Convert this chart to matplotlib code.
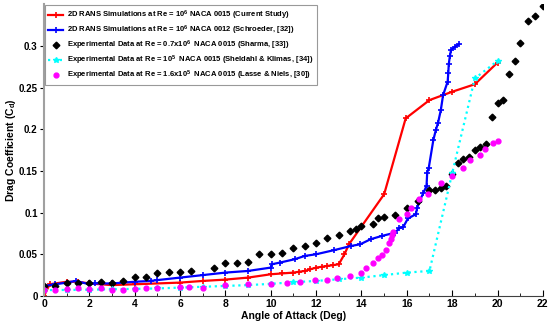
import matplotlib
matplotlib.use("Agg")
import matplotlib.pyplot as plt
from matplotlib.ticker import MultipleLocator

plt.rcParams["font.family"] = ["Liberation Sans", "DejaVu Sans"]
plt.rcParams["font.weight"] = "bold"
plt.rcParams["mathtext.fontset"] = "custom"
plt.rcParams["mathtext.bf"] = "Liberation Sans:bold"
plt.rcParams["mathtext.rm"] = "Liberation Sans:bold"
plt.rcParams["mathtext.default"] = "bf"

# Current study, 2D RANS, NACA 0015
red_x = [0, 0.25, 1, 1.5, 2, 3, 4, 6, 7, 8, 9, 10, 10.5, 11, 11.25, 11.5, 11.75,
         12, 12.25, 12.5, 12.75, 13, 13.25, 13.45, 15, 15.95, 17, 18, 19, 20]
red_y = [0.0, 0.014, 0.017, 0.017, 0.015, 0.013, 0.014, 0.016, 0.018, 0.0196, 0.022,
         0.026, 0.027, 0.028, 0.029, 0.030, 0.032, 0.034, 0.035, 0.036, 0.037, 0.038,
         0.050, 0.062, 0.122, 0.213, 0.235, 0.245, 0.254, 0.280]

# Schroeder, NACA 0012
blue_x = [0, 0.5, 1, 1.4, 2, 2.25, 3, 4, 4.7, 5, 6, 7, 8, 9, 10, 10.05, 10.4, 11.05,
          11.5, 12, 12.8, 13.55, 13.95, 14.4, 14.9, 15.5, 15.65, 15.85, 16.05, 16.4,
          16.45, 16.55, 16.72, 16.87, 16.9, 16.97, 17.17, 17.28, 17.38, 17.5, 17.6,
          17.8, 17.83, 17.85, 17.9, 17.95, 18.12, 18.3]
blue_y = [0.012, 0.014, 0.016, 0.018, 0.014, 0.015, 0.015, 0.017, 0.018, 0.019, 0.022,
          0.025, 0.028, 0.030, 0.034, 0.038, 0.040, 0.044, 0.048, 0.050, 0.055, 0.060,
          0.062, 0.068, 0.072, 0.076, 0.081, 0.083, 0.093, 0.098, 0.105, 0.113, 0.123,
          0.132, 0.148, 0.154, 0.187, 0.199, 0.208, 0.223, 0.241, 0.257, 0.267, 0.278,
          0.288, 0.295, 0.299, 0.302]

# Sharma, Re = 0.7e6
black_x = [0, 0.5, 1, 1.5, 2, 2.5, 3, 3.5, 4, 4.5, 5, 5.5, 6, 6.5, 7.5, 8, 8.5, 9,
           9.5, 10, 10.5, 11, 11.5, 12, 12.5, 13, 13.5, 13.75, 14, 14.5, 14.75, 15,
           15.5, 16, 16.5, 17, 17.25, 17.5, 17.75, 18, 18.25, 18.5, 18.75, 19, 19.25,
           19.5, 19.75, 20, 20.25, 20.5, 20.75, 21, 21.33, 21.65, 22]
black_y = [0.012, 0.012, 0.015, 0.016, 0.0155, 0.017, 0.016, 0.018, 0.0225, 0.023,
           0.028, 0.029, 0.029, 0.030, 0.033, 0.040, 0.040, 0.041, 0.050, 0.050, 0.052,
           0.057, 0.060, 0.064, 0.070, 0.073, 0.078, 0.080, 0.084, 0.086, 0.093, 0.095,
           0.097, 0.106, 0.114, 0.127, 0.127, 0.130, 0.132, 0.146, 0.160, 0.164, 0.167,
           0.175, 0.179, 0.182, 0.215, 0.231, 0.235, 0.266, 0.282, 0.303, 0.330, 0.336,
           0.348]

# Sheldahl & Klimas, Re = 1e5
cyan_x = [0, 1, 2, 3, 4, 5, 6, 7, 8, 9, 10, 11, 12, 13, 14, 15, 16, 17, 18, 19, 20]
cyan_y = [0.007, 0.0072, 0.0075, 0.008, 0.0085, 0.009, 0.010, 0.011, 0.012, 0.013,
          0.0145, 0.0165, 0.018, 0.020, 0.022, 0.025, 0.028, 0.030, 0.147, 0.261, 0.282]

# Lasse & Niels, Re = 1.6e5
mag_x = [0, 0.5, 1, 1.5, 2, 2.5, 3, 3.5, 4, 4.5, 5, 6, 6.4, 7, 8, 9, 10, 10.7, 11.3,
         11.95, 12.46, 12.9, 13.5, 13.98, 14.18, 14.49, 14.71, 14.89, 15.08, 15.23,
         15.29, 15.33, 15.4, 15.65, 16.0, 16.2, 16.55, 16.92, 17.53, 17.98, 18.5,
         18.78, 19.22, 19.44, 19.78, 20.03]
mag_y = [0.007, 0.007, 0.008, 0.010, 0.008, 0.009, 0.007, 0.007, 0.008, 0.009, 0.009,
         0.011, 0.011, 0.010, 0.013, 0.014, 0.014, 0.016, 0.017, 0.019, 0.019, 0.021,
         0.024, 0.028, 0.033, 0.040, 0.045, 0.049, 0.055, 0.063, 0.068, 0.073, 0.077,
         0.092, 0.098, 0.105, 0.116, 0.122, 0.136, 0.144, 0.154, 0.163, 0.169, 0.176,
         0.183, 0.186]

labels = [
    r"2D RANS Simulations at Re = 10$^6$ NACA 0015 (Current Study)",
    r"2D RANS Simulations at Re = 10$^6$ NACA 0012 (Schroeder, [32])",
    r"Experimental Data at Re = 0.7x10$^6$  NACA 0015 (Sharma, [33])",
    r"Experimental Data at Re = 10$^5$  NACA 0015 (Sheldahl & Klimas, [34])",
    r"Experimental Data at Re = 1.6x10$^5$  NACA 0015 (Lasse & Niels, [30])",
]

fig = plt.figure(figsize=(5.5, 3.27), dpi=100)
ax = fig.add_axes([0.08, 0.095, 0.907, 0.892])

ax.plot(red_x, red_y, "-+", color="#ff0000", lw=1.6, ms=4, mew=1.2, label=labels[0])
ax.plot(blue_x, blue_y, "-+", color="#0000ff", lw=1.6, ms=4, mew=1.2, label=labels[1])
ax.plot(black_x, black_y, "D", color="black", ms=3.4, ls="none", label=labels[2])
ax.plot(cyan_x, cyan_y, ":*", color="#00ffff", lw=1.6, ms=4, label=labels[3])
ax.plot(mag_x, mag_y, "o", color="#ff00ff", ms=3.5, ls="none", label=labels[4])

ax.set_xlim(0, 22)
ax.set_ylim(0, 0.35)
ax.xaxis.set_major_locator(MultipleLocator(2))
ax.xaxis.set_minor_locator(MultipleLocator(1))
ax.set_yticks([0, 0.05, 0.1, 0.15, 0.2, 0.25, 0.3])
ax.set_yticklabels(["0", "0.05", "0.1", "0.15", "0.2", "0.25", "0.3"])

for s in ["top", "right"]:
    ax.spines[s].set_visible(False)
ax.spines["left"].set_color("#a0a0a0")
ax.spines["left"].set_linewidth(1.5)
ax.spines["bottom"].set_color("#404040")
ax.tick_params(axis="x", direction="in", length=4, labelsize=7.5, pad=2)
ax.tick_params(axis="x", which="minor", direction="in", length=2.5)
ax.tick_params(axis="y", direction="out", length=3, labelsize=7, pad=1.5)

ax.set_xlabel("Angle of Attack (Deg)", fontsize=7.5, fontweight="bold", labelpad=2)
ax.set_ylabel(r"Drag Coefficient (C$_d$)", fontsize=7.5, fontweight="bold")
ax.yaxis.set_label_coords(-0.052, 0.5)

leg = ax.legend(loc="upper left", fontsize=5.5, frameon=True, fancybox=False,
                edgecolor="#808080", handlelength=2.0, borderpad=0.4,
                labelspacing=0.22, borderaxespad=0.15, handletextpad=0.5)
leg.get_frame().set_linewidth(0.8)

fig.savefig("out.png", dpi=100)
